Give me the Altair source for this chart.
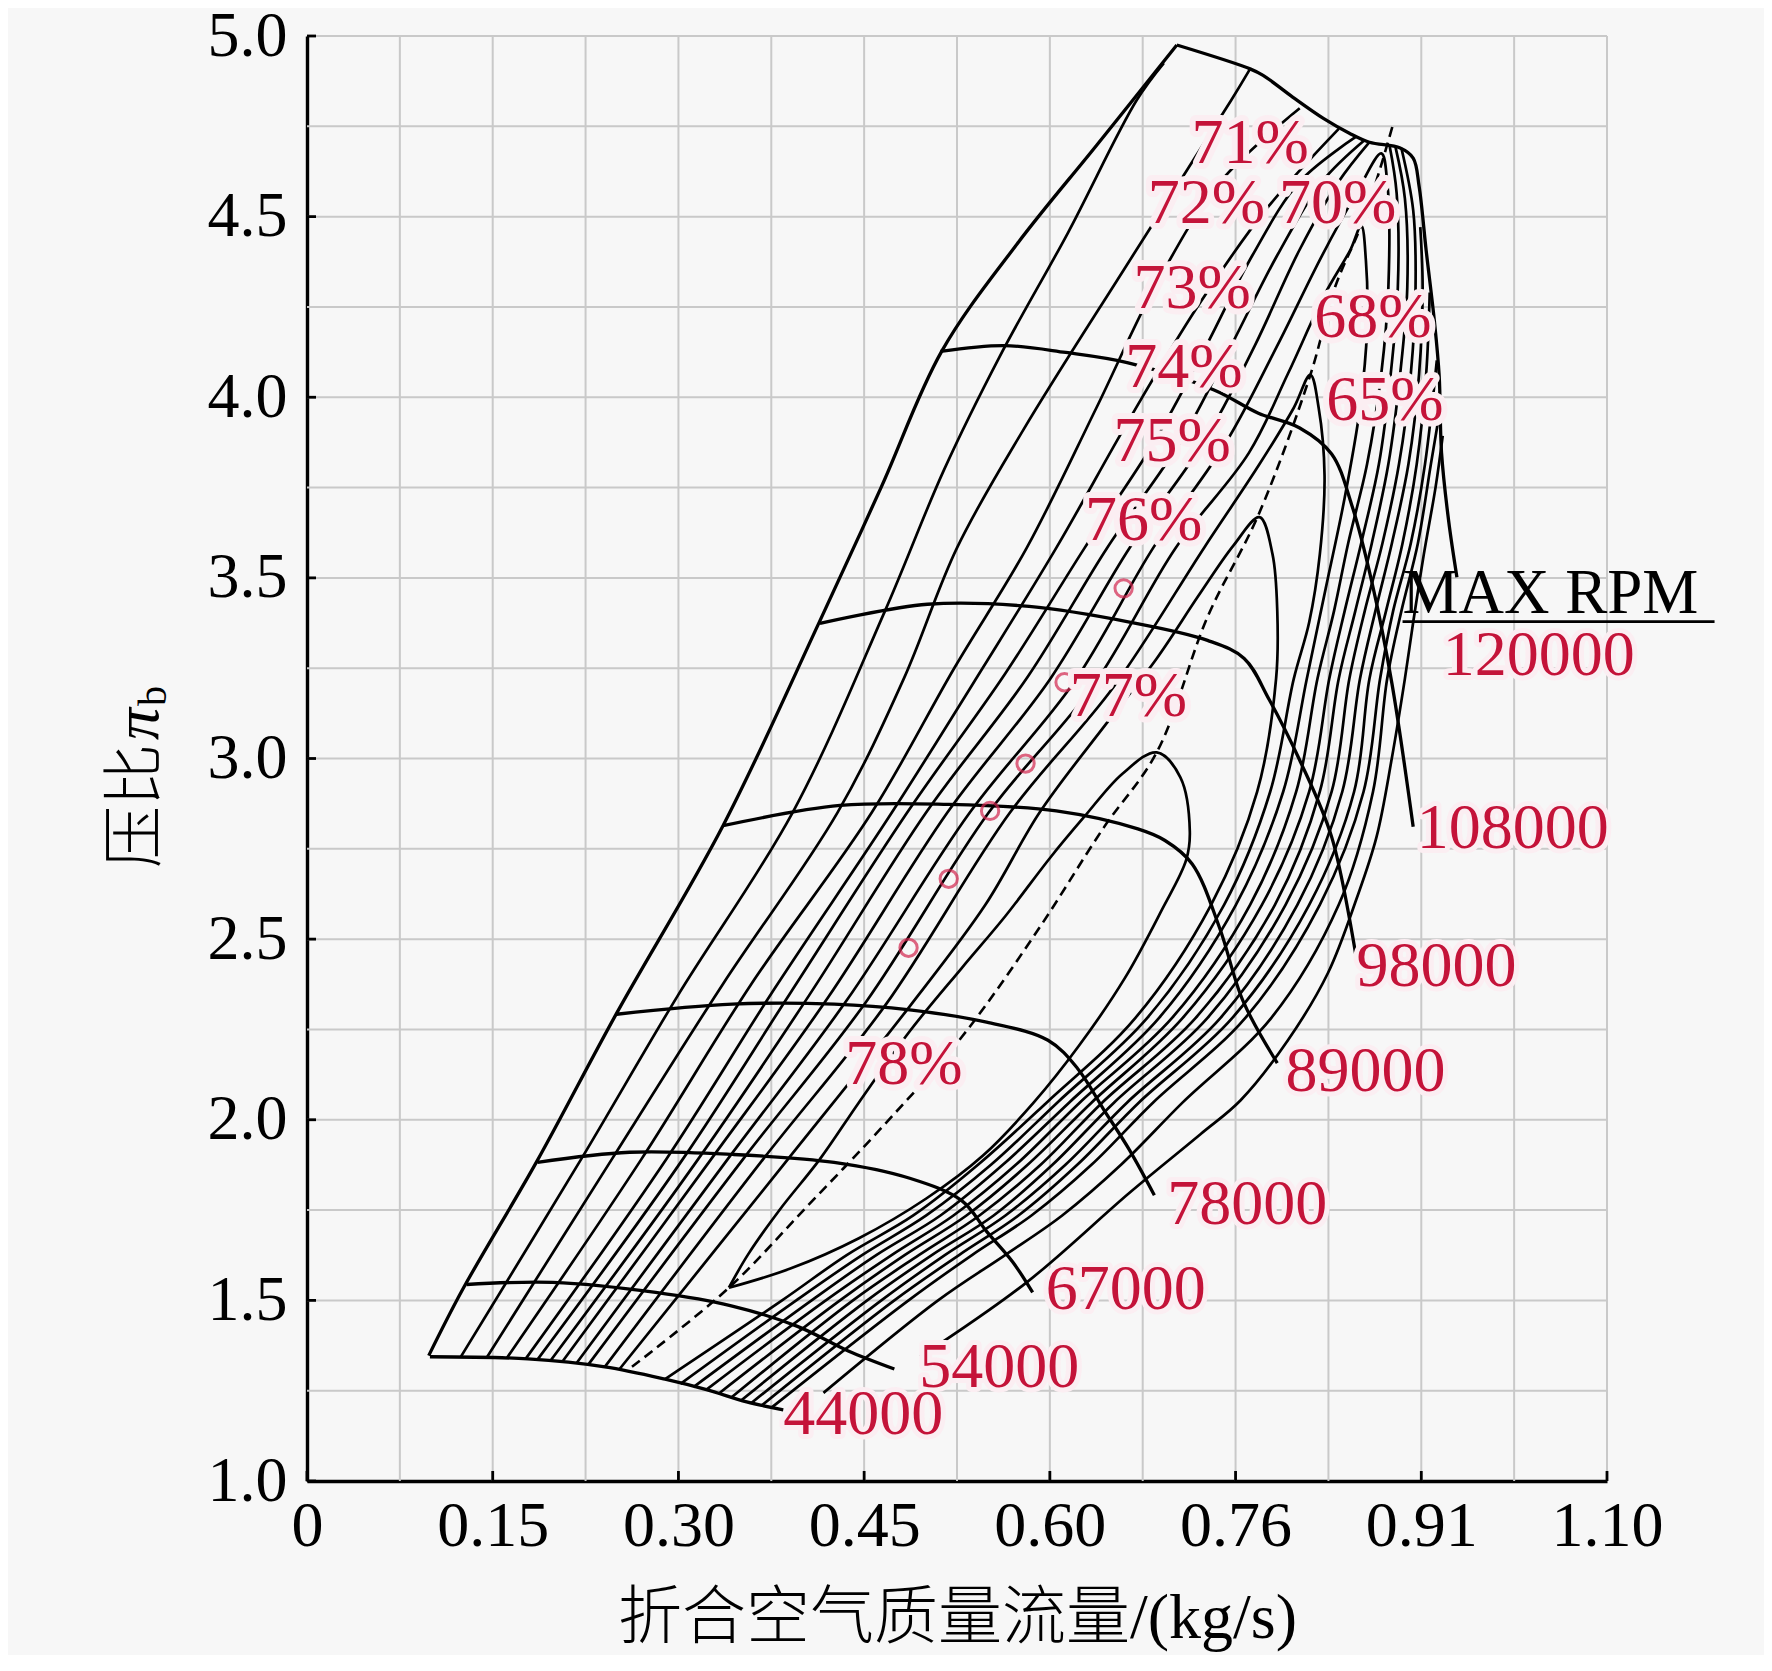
import json
import altair as alt
import pandas as pd

# ---------------- axis / tick data ----------------
X_MAX = 1.10
x_tick_labels = ['0', '0.15', '0.30', '0.45', '0.60', '0.76', '0.91', '1.10']
x_tick_pos = [i * X_MAX / 7 for i in range(8)]
x_grid = [i * X_MAX / 14 for i in range(1, 15)]
y_ticks = [1.0, 1.5, 2.0, 2.5, 3.0, 3.5, 4.0, 4.5, 5.0]
y_grid = [1.25 + 0.25 * i for i in range(16)]

# ---------------- surge line ----------------
surge_x = [0.103, 0.132, 0.194, 0.261, 0.352, 0.433, 0.486, 0.537, 0.601, 0.668, 0.736]
surge_y = [1.347, 1.532, 1.882, 2.289, 2.814, 3.374, 3.752, 4.127, 4.425, 4.697, 4.975]

# ---------------- constant speed lines ----------------
n44000_x = [0.104, 0.187, 0.252, 0.303, 0.338, 0.372, 0.403]
n44000_y = [1.344, 1.338, 1.316, 1.282, 1.253, 1.219, 1.197]
n54000_x = [0.135, 0.208, 0.295, 0.359, 0.415, 0.458, 0.497]
n54000_y = [1.544, 1.550, 1.522, 1.485, 1.428, 1.360, 1.310]
n67000_x = [0.195, 0.273, 0.360, 0.446, 0.510, 0.554, 0.575, 0.597, 0.614]
n67000_y = [1.882, 1.910, 1.904, 1.882, 1.838, 1.776, 1.691, 1.607, 1.522]
n78000_x = [0.262, 0.360, 0.446, 0.510, 0.575, 0.627, 0.652, 0.674, 0.696, 0.717]
n78000_y = [2.292, 2.320, 2.320, 2.304, 2.270, 2.220, 2.142, 2.029, 1.916, 1.791]
n89000_x = [0.352, 0.451, 0.542, 0.634, 0.703, 0.726, 0.749, 0.772, 0.792, 0.821]
n89000_y = [2.814, 2.870, 2.873, 2.855, 2.805, 2.773, 2.708, 2.533, 2.329, 2.157]
n98000_x = [0.434, 0.525, 0.611, 0.697, 0.762, 0.793, 0.814, 0.840, 0.867, 0.888]
n98000_y = [3.374, 3.427, 3.421, 3.377, 3.327, 3.277, 3.164, 2.995, 2.783, 2.445]
n108000_x = [0.536, 0.590, 0.642, 0.694, 0.767, 0.805, 0.840, 0.867, 0.884, 0.901, 0.918, 0.936]
n108000_y = [4.127, 4.143, 4.124, 4.096, 4.021, 3.956, 3.915, 3.843, 3.702, 3.489, 3.208, 2.811]
n120000_x = [0.736, 0.798, 0.809, 0.834, 0.860, 0.882, 0.899, 0.925, 0.936, 0.941, 0.947, 0.954,
             0.958, 0.960, 0.966, 0.973]
n120000_y = [4.975, 4.909, 4.891, 4.831, 4.772, 4.731, 4.706, 4.690, 4.662, 4.584, 4.406, 4.209,
             4.059, 3.846, 3.658, 3.502]

# ---------------- efficiency contours ----------------
eta_l1_x = [0.130, 0.232, 0.314, 0.411, 0.489, 0.539, 0.586, 0.644, 0.702, 0.725]
eta_l1_y = [1.343, 1.891, 2.345, 2.851, 3.408, 3.799, 4.112, 4.456, 4.822, 4.925]
eta_l2_x = [0.152, 0.258, 0.352, 0.449, 0.505, 0.550, 0.606, 0.696, 0.782, 0.798]
eta_l2_y = [1.341, 1.891, 2.376, 2.851, 3.221, 3.583, 3.909, 4.378, 4.822, 4.909]
eta_l3_x = [0.169, 0.283, 0.376, 0.478, 0.548, 0.609, 0.668, 0.719, 0.773, 0.840]
eta_l3_y = [1.340, 1.891, 2.376, 2.851, 3.252, 3.583, 3.971, 4.315, 4.597, 4.800]
eta_l4_x = [0.185, 0.304, 0.395, 0.495, 0.572, 0.634, 0.696, 0.754, 0.811, 0.873]
eta_l4_y = [1.338, 1.891, 2.360, 2.851, 3.252, 3.583, 3.940, 4.253, 4.518, 4.743]
eta_l5_x = [0.195, 0.318, 0.409, 0.508, 0.591, 0.658, 0.717, 0.761, 0.800, 0.840, 0.888]
eta_l5_y = [1.336, 1.891, 2.351, 2.851, 3.236, 3.583, 3.877, 4.143, 4.393, 4.597, 4.722]
eta_l6_x = [0.206, 0.331, 0.425, 0.524, 0.610, 0.677, 0.739, 0.782, 0.821, 0.859, 0.895]
eta_l6_y = [1.333, 1.891, 2.345, 2.851, 3.227, 3.583, 3.877, 4.143, 4.393, 4.597, 4.712]
eta_l7_x = [0.216, 0.342, 0.441, 0.542, 0.629, 0.696, 0.759, 0.802, 0.840, 0.873, 0.899]
eta_l7_y = [1.330, 1.891, 2.339, 2.851, 3.221, 3.583, 3.877, 4.143, 4.409, 4.597, 4.706]

eta_c4_x = [0.228, 0.356, 0.457, 0.561, 0.649, 0.716, 0.778, 0.821, 0.859, 0.888, 0.909, 0.914,
            0.915, 0.909, 0.897, 0.881, 0.869, 0.855, 0.837, 0.798, 0.732, 0.654, 0.600, 0.547,
            0.495, 0.439, 0.338]
eta_c4_y = [1.326, 1.891, 2.332, 2.851, 3.211, 3.583, 3.877, 4.143, 4.393, 4.565, 4.675, 4.597,
            4.303, 4.065, 3.815, 3.596, 3.408, 3.221, 2.908, 2.595, 2.282, 2.048, 1.876, 1.735,
            1.626, 1.500, 1.253]
eta_c3_x = [0.238, 0.369, 0.473, 0.577, 0.666, 0.735, 0.797, 0.830, 0.861, 0.883, 0.892, 0.896,
            0.897, 0.891, 0.878, 0.862, 0.846, 0.826, 0.786, 0.721, 0.645, 0.589, 0.536, 0.482,
            0.427, 0.327]
eta_c3_y = [1.322, 1.891, 2.326, 2.851, 3.205, 3.583, 3.846, 4.065, 4.284, 4.409, 4.475, 4.378,
            4.190, 3.971, 3.721, 3.471, 3.221, 2.908, 2.595, 2.282, 2.048, 1.876, 1.735, 1.626,
            1.500, 1.260]
eta_c2_x = [0.252, 0.386, 0.490, 0.595, 0.682, 0.759, 0.806, 0.835, 0.849, 0.856, 0.861, 0.857,
            0.848, 0.835, 0.815, 0.776, 0.711, 0.635, 0.579, 0.524, 0.470, 0.414, 0.316]
eta_c2_y = [1.316, 1.891, 2.320, 2.851, 3.196, 3.583, 3.815, 3.971, 4.062, 3.971, 3.783, 3.565,
            3.377, 3.221, 2.908, 2.595, 2.282, 2.048, 1.876, 1.735, 1.626, 1.500, 1.269]
eta_c1_x = [0.264, 0.407, 0.510, 0.574, 0.620, 0.676, 0.719, 0.754, 0.784, 0.806, 0.817, 0.821,
            0.820, 0.804, 0.765, 0.701, 0.626, 0.568, 0.513, 0.457, 0.402, 0.303]
eta_c1_y = [1.308, 1.891, 2.314, 2.595, 2.851, 3.095, 3.277, 3.449, 3.590, 3.668, 3.565, 3.408,
            3.221, 2.908, 2.595, 2.282, 2.048, 1.876, 1.735, 1.626, 1.500, 1.282]
eta_c0_x = [0.357, 0.373, 0.400, 0.434, 0.467, 0.510, 0.554, 0.591, 0.629, 0.657, 0.690, 0.719,
            0.739, 0.747, 0.744, 0.723, 0.692, 0.653, 0.615, 0.572, 0.524, 0.467, 0.409, 0.357]
eta_c0_y = [1.535, 1.626, 1.751, 1.891, 2.048, 2.245, 2.420, 2.564, 2.726, 2.836, 2.958, 3.017,
            2.948, 2.798, 2.720, 2.579, 2.392, 2.204, 2.048, 1.901, 1.782, 1.672, 1.588, 1.535]

eta_r5_x = [0.916, 0.922, 0.923, 0.917, 0.907, 0.892, 0.878, 0.865, 0.848, 0.808, 0.741, 0.664,
            0.610, 0.558, 0.506, 0.451, 0.348]
eta_r5_y = [4.697, 4.565, 4.303, 4.065, 3.815, 3.596, 3.408, 3.221, 2.908, 2.595, 2.282, 2.048,
            1.876, 1.735, 1.626, 1.500, 1.241]
eta_r6_x = [0.921, 0.929, 0.931, 0.925, 0.915, 0.901, 0.887, 0.873, 0.857, 0.819, 0.752, 0.673,
            0.621, 0.569, 0.518, 0.462, 0.359]
eta_r6_y = [4.693, 4.550, 4.303, 4.065, 3.815, 3.596, 3.408, 3.221, 2.908, 2.595, 2.282, 2.048,
            1.876, 1.735, 1.626, 1.500, 1.231]
eta_r7_x = [0.926, 0.936, 0.938, 0.934, 0.924, 0.910, 0.895, 0.882, 0.867, 0.828, 0.762, 0.683,
            0.631, 0.581, 0.529, 0.474, 0.367]
eta_r7_y = [4.690, 4.518, 4.303, 4.065, 3.815, 3.596, 3.408, 3.221, 2.908, 2.595, 2.282, 2.048,
            1.876, 1.735, 1.626, 1.500, 1.222]
eta_r8_x = [0.942, 0.944, 0.941, 0.932, 0.918, 0.904, 0.891, 0.876, 0.838, 0.773, 0.694, 0.642,
            0.591, 0.540, 0.486, 0.376]
eta_r8_y = [4.471, 4.303, 4.065, 3.815, 3.596, 3.408, 3.221, 2.908, 2.595, 2.282, 2.048, 1.876,
            1.735, 1.626, 1.500, 1.216]
eta_r9_x = [0.950, 0.947, 0.939, 0.927, 0.913, 0.899, 0.886, 0.848, 0.783, 0.704, 0.652, 0.602,
            0.552, 0.497, 0.385]
eta_r9_y = [4.290, 4.065, 3.815, 3.596, 3.408, 3.221, 2.908, 2.595, 2.282, 2.048, 1.876, 1.735,
            1.626, 1.500, 1.210]
eta_r10_x = [0.956, 0.946, 0.934, 0.919, 0.908, 0.894, 0.857, 0.794, 0.716, 0.664, 0.613, 0.563,
             0.509, 0.393]
eta_r10_y = [4.102, 3.815, 3.596, 3.408, 3.221, 2.908, 2.595, 2.282, 2.048, 1.876, 1.735, 1.626,
             1.500, 1.203]
eta_r11_x = [0.959, 0.951, 0.940, 0.926, 0.914, 0.902, 0.873, 0.816, 0.741, 0.689, 0.639, 0.591,
             0.534, 0.437]
eta_r11_y = [3.971, 3.815, 3.596, 3.408, 3.221, 2.908, 2.595, 2.282, 2.048, 1.876, 1.735, 1.626,
             1.500, 1.244]
eta_out_x = [0.961, 0.955, 0.945, 0.936, 0.929, 0.918, 0.905, 0.888, 0.864, 0.830, 0.790, 0.756,
             0.696, 0.609, 0.519]
eta_out_y = [3.893, 3.752, 3.565, 3.377, 3.221, 3.002, 2.783, 2.611, 2.407, 2.220, 2.054, 1.960,
             1.798, 1.550, 1.344]

# ---------------- ridge (dashed) line & operating points ----------------
ridge_x = [0.275, 0.357, 0.424, 0.489, 0.554, 0.618, 0.674, 0.719, 0.762, 0.805, 0.849, 0.870,
           0.892, 0.907, 0.919]
ridge_y = [1.316, 1.535, 1.763, 1.988, 2.229, 2.523, 2.808, 3.017, 3.392, 3.674, 4.062, 4.306,
           4.475, 4.622, 4.756]
op_x = [0.509, 0.543, 0.578, 0.608, 0.641, 0.691]
op_y = [2.476, 2.667, 2.855, 2.986, 3.211, 3.471]

# ---------------- labels ----------------
eff_labels = ['71%', '72%', '70%', '73%', '68%', '74%', '65%', '75%', '76%', '77%', '78%']
eff_lab_x = [0.798, 0.761, 0.872, 0.749, 0.902, 0.742, 0.912, 0.732, 0.708, 0.695, 0.505]
eff_lab_y = [4.700, 4.534, 4.534, 4.299, 4.218, 4.081, 3.990, 3.877, 3.658, 3.170, 2.151]
rpm_labels = ['44000', '54000', '67000', '78000', '89000', '98000', '108000', '120000']
rpm_lab_x = [0.403, 0.518, 0.625, 0.728, 0.828, 0.888, 0.939, 0.961]
rpm_lab_y = [1.184, 1.313, 1.529, 1.763, 2.132, 2.423, 2.804, 3.284]
max_rpm_x = 0.927
max_rpm_y = 3.402
underline_x = [0.927, 1.191]
underline_y = 3.379

RED = '#c41339'
HALO = '#fbeef2'
SERIF = 'Liberation Serif'
CJK = 'Liberation Serif, Noto Sans CJK SC'
W, H = 1300, 1445


def to_rows(groups, kind):
    rows = []
    for name, xs, ys in groups:
        for i, (a, b) in enumerate(zip(xs, ys)):
            rows.append({'id': name, 'i': i, 'x': a, 'y': b, 'kind': kind})
    return rows


speed_df = pd.DataFrame(to_rows([
    ('surge', surge_x, surge_y),
    ('44000', n44000_x, n44000_y), ('54000', n54000_x, n54000_y),
    ('67000', n67000_x, n67000_y), ('78000', n78000_x, n78000_y),
    ('89000', n89000_x, n89000_y), ('98000', n98000_x, n98000_y),
    ('108000', n108000_x, n108000_y), ('120000', n120000_x, n120000_y),
], 'speed'))

eta_df = pd.DataFrame(to_rows([
    ('l1', eta_l1_x, eta_l1_y), ('l2', eta_l2_x, eta_l2_y), ('l3', eta_l3_x, eta_l3_y),
    ('l4', eta_l4_x, eta_l4_y), ('l5', eta_l5_x, eta_l5_y), ('l6', eta_l6_x, eta_l6_y),
    ('l7', eta_l7_x, eta_l7_y), ('c4', eta_c4_x, eta_c4_y), ('c3', eta_c3_x, eta_c3_y),
    ('c2', eta_c2_x, eta_c2_y), ('c1', eta_c1_x, eta_c1_y), ('c0', eta_c0_x, eta_c0_y),
    ('r5', eta_r5_x, eta_r5_y), ('r6', eta_r6_x, eta_r6_y), ('r7', eta_r7_x, eta_r7_y),
    ('r8', eta_r8_x, eta_r8_y), ('r9', eta_r9_x, eta_r9_y), ('r10', eta_r10_x, eta_r10_y),
    ('r11', eta_r11_x, eta_r11_y), ('out', eta_out_x, eta_out_y),
], 'eta'))

ridge_df = pd.DataFrame(to_rows([('ridge', ridge_x, ridge_y)], 'ridge'))
op_df = pd.DataFrame({'x': op_x, 'y': op_y})
xgrid_df = pd.DataFrame({'x': x_grid})
ygrid_df = pd.DataFrame({'y': y_grid})
xtick_df = pd.DataFrame({'x': x_tick_pos})
ytick_df = pd.DataFrame({'y': y_ticks})
eff_lab_df = pd.DataFrame({'x': eff_lab_x, 'y': eff_lab_y, 't': eff_labels})
rpm_lab_df = pd.DataFrame({'x': rpm_lab_x, 'y': rpm_lab_y, 't': rpm_labels})
max_df = pd.DataFrame({'x': [max_rpm_x], 'y': [max_rpm_y], 't': ['MAX RPM']})
ul_df = pd.DataFrame({'x': [underline_x[0]], 'x2': [underline_x[1]], 'y': [underline_y]})

label_expr = json.dumps(x_tick_labels) + '[round(datum.value * 7 / 1.1)]'

x_axis = alt.Axis(values=x_tick_pos, labelExpr=label_expr, title='折合空气质量流量/(kg/s)',
                  grid=False, ticks=False, domainColor='black', domainWidth=3.4,
                  labelFont=SERIF, labelFontSize=64, labelColor='black', labelPadding=13,
                  labelFlush=False, labelOverlap=False, titleFont=CJK, titleFontSize=64,
                  titleFontWeight=300, titleColor='black', titlePadding=28)
y_axis = alt.Axis(values=y_ticks, format='.1f', title=None, grid=False, ticks=False,
                  domainColor='black', domainWidth=3.4, labelFont=SERIF, labelFontSize=64,
                  labelColor='black', labelPadding=20, labelFlush=False, labelOverlap=False)

X = alt.X('x:Q', scale=alt.Scale(domain=[0, X_MAX], nice=False, zero=False), axis=x_axis)
Y = alt.Y('y:Q', scale=alt.Scale(domain=[1.0, 5.0], nice=False, zero=False), axis=y_axis)

grid_v = alt.Chart(xgrid_df).mark_rule(color='#c9c9c9', strokeWidth=2).encode(x=X)
grid_h = alt.Chart(ygrid_df).mark_rule(color='#c9c9c9', strokeWidth=2).encode(y=Y)

eta_layer = alt.Chart(eta_df).mark_line(color='black', strokeWidth=2.7,
                                         interpolate='catmull-rom').encode(
    x=X, y=Y, detail='id:N', order='i:Q')
speed_layer = alt.Chart(speed_df).mark_line(color='black', strokeWidth=3.3,
                                             interpolate='catmull-rom').encode(
    x=X, y=Y, detail='id:N', order='i:Q')
ridge_layer = alt.Chart(ridge_df).mark_line(color='black', strokeWidth=2.6, strokeDash=[10, 6],
                                             interpolate='catmull-rom').encode(
    x=X, y=Y, order='i:Q')
op_layer = alt.Chart(op_df).mark_point(shape='circle', filled=False, size=300, strokeWidth=3,
                                       color='#d3264f').encode(x=X, y=Y)

xticks = alt.Chart(xtick_df).mark_rule(color='black', strokeWidth=2.8).encode(
    x=X, y=alt.value(H), y2=alt.value(H - 10))
yticks = alt.Chart(ytick_df).mark_rule(color='black', strokeWidth=2.8).encode(
    y=Y, x=alt.value(0), x2=alt.value(9))

eff_halo = alt.Chart(eff_lab_df).mark_text(font=SERIF, fontSize=64, align='center',
                                           baseline='middle', fill=HALO, stroke=HALO,
                                           strokeWidth=12, strokeJoin='round').encode(
    x=X, y=Y, text='t:N')
eff_text = alt.Chart(eff_lab_df).mark_text(font=SERIF, fontSize=64, align='center',
                                           baseline='middle', color=RED).encode(
    x=X, y=Y, text='t:N')
rpm_halo = alt.Chart(rpm_lab_df).mark_text(font=SERIF, fontSize=64, align='left',
                                           baseline='middle', fill=HALO, stroke=HALO,
                                           strokeWidth=10, strokeJoin='round').encode(
    x=X, y=Y, text='t:N')
rpm_text = alt.Chart(rpm_lab_df).mark_text(font=SERIF, fontSize=64, align='left',
                                           baseline='middle', color=RED).encode(
    x=X, y=Y, text='t:N')
max_text = alt.Chart(max_df).mark_text(font=SERIF, fontSize=63, align='left',
                                       baseline='alphabetic', color='black').encode(
    x=X, y=Y, text='t:N')
underline = alt.Chart(ul_df).mark_rule(color='black', strokeWidth=2.8).encode(
    x=X, x2='x2:Q', y=Y)

ytitle_cjk = alt.Chart(pd.DataFrame({'t': ['压比']})).mark_text(
    font='Noto Sans CJK SC', fontSize=62, angle=270, align='center', baseline='middle',
    color='black', fontWeight=300).encode(x=alt.value(-170), y=alt.value(770), text='t:N')
ytitle_pi = alt.Chart(pd.DataFrame({'t': ['π']})).mark_text(
    font=SERIF, fontSize=64, fontStyle='italic', angle=270, align='center', baseline='middle',
    color='black').encode(x=alt.value(-168), y=alt.value(688), text='t:N')
ytitle_b = alt.Chart(pd.DataFrame({'t': ['b']})).mark_text(
    font=SERIF, fontSize=40, angle=270, align='center', baseline='middle',
    color='black').encode(x=alt.value(-153), y=alt.value(660), text='t:N')

chart = alt.layer(
    grid_v, grid_h, eta_layer, ridge_layer, speed_layer, op_layer, xticks, yticks,
    eff_halo, eff_text, rpm_halo, rpm_text, max_text, underline,
    ytitle_cjk, ytitle_pi, ytitle_b,
).properties(
    width=W, height=H,
    autosize=alt.AutoSizeParams(type='none'),
    padding={'left': 299, 'top': 28, 'right': 157, 'bottom': 174},
    background='#f7f7f7',
).configure_view(stroke=None)

chart.save('out.html', embed_options={'renderer': 'svg', 'actions': False})
